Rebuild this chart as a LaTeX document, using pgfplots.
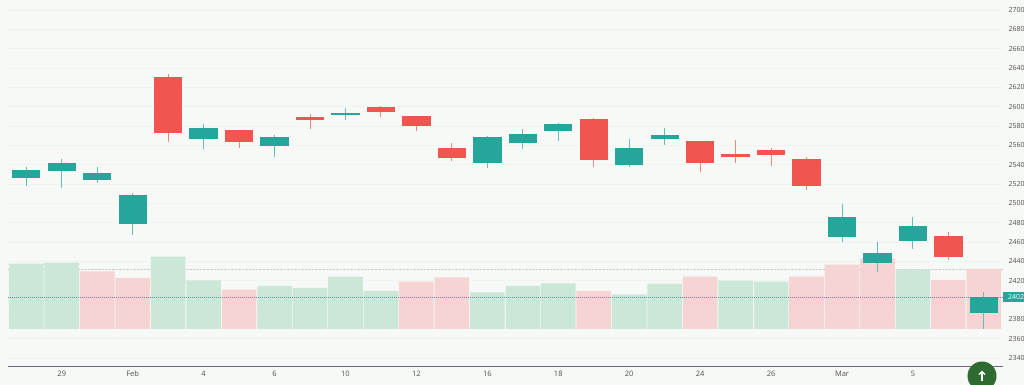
\documentclass[border=0pt]{standalone}
\usepackage{pgfplots}
\usepackage{pgfplotstable}
\usepackage{fontspec}
\setmainfont{Open Sans}
\pgfplotsset{compat=1.18}
\usetikzlibrary{arrows.meta}
\definecolor{bgc}{HTML}{F7F9F6}
\definecolor{gridc}{HTML}{F0F3F0}
\definecolor{teal1}{HTML}{26A69A}
\definecolor{red1}{HTML}{F25550}
\definecolor{volg}{HTML}{CBE7D7}
\definecolor{volr}{HTML}{F7D4D4}
\definecolor{axc}{HTML}{6A6A86}
\definecolor{txt}{HTML}{505050}
\definecolor{btn}{HTML}{2E6B30}
% candles: index, low, body bottom, body top, high
\pgfplotstableread{
i low bot top high
0 2517.9 2525.9 2534.2 2537.3
1 2515.9 2533.8 2541.7 2546.2
2 2520.7 2524.4 2531.7 2537.3
3 2467.2 2478.9 2508.6 2510.4
5 2556.2 2566.6 2577.6 2581.8
7 2548.2 2559.6 2568.9 2570.4
9 2586.5 2591.4 2593.4 2598.6
13 2536.6 2542.0 2568.3 2569.7
14 2556.5 2562.7 2572.0 2576.6
15 2564.2 2574.5 2582.1 2583.1
17 2537.3 2540.0 2557.2 2566.6
18 2560.3 2566.9 2570.7 2577.6
23 2459.7 2465.5 2486.2 2499.0
24 2429.3 2438.6 2448.3 2460.0
25 2452.4 2461.3 2476.6 2485.9
27 2370.0 2386.6 2403.1 2408.0
}\upcandles
\pgfplotstableread{
i low bot top high
4 2563.8 2572.4 2630.4 2633.8
6 2556.9 2563.4 2575.6 2575.9
8 2576.9 2585.9 2589.0 2592.4
10 2589.0 2594.5 2599.7 2600.7
11 2574.5 2580.3 2590.7 2590.7
12 2543.8 2546.6 2556.9 2562.7
16 2537.9 2544.8 2586.9 2588.3
19 2532.4 2542.0 2564.2 2564.2
20 2542.0 2547.6 2551.0 2565.5
21 2538.9 2549.7 2555.2 2557.2
22 2513.8 2517.6 2545.9 2547.6
26 2441.1 2444.8 2465.9 2470.3
}\downcandles
% volume, in the picture's own scale
\pgfplotstableread{
i v
0 65.3
1 66.3
4 72.3
5 48.7
7 43.0
8 41.0
9 52.3
10 38.0
13 36.7
14 43.0
15 45.7
17 34.7
18 45.3
20 48.3
21 47.3
25 59.3
}\greenvol
\pgfplotstableread{
i v
2 57.7
3 51.0
6 39.3
11 47.3
12 51.7
16 38.0
19 52.3
22 52.3
23 64.3
24 70.3
26 49.0
27 60.0
}\redvol
\pgfplotsset{base/.style={
  scale only axis, width=995pt, height=366.7pt, at={(0,0)}, anchor=south west,
  xmin=-0.516, xmax=27.54,
}}
\begin{document}
\begin{tikzpicture}
\clip (-8pt,-18.3pt) rectangle (1016pt,366.7pt);
\fill[bgc] (-8pt,-18.3pt) rectangle (1016pt,366.7pt);
% grid, axis line and tick labels
\begin{axis}[base,
  ymin=2331.0, ymax=2710.34,
  axis x line=bottom, axis y line=right,
  x axis line style={draw=axc, line width=0.8pt, -},
  y axis line style={draw=none},
  ytick={2340,2360,2380,2420,2440,2460,2480,2500,2520,2540,2560,2580,2600,2620,2640,2660,2680,2700},
  extra y ticks={2400}, extra y tick labels={},
  extra y tick style={ymajorgrids},
  xtick={1,3,5,7,9,11,13,15,17,19,21,23,25},
  xticklabels={29,Feb,4,6,10,12,16,18,20,24,26,Mar,5},
  ymajorgrids, major grid style={gridc, line width=0.7pt},
  major tick length=0pt,
  tick label style={font=\fontsize{7}{9}\selectfont, text=txt},
  yticklabel style={/pgf/number format/1000 sep={}, /pgf/number format/assume math mode=true, anchor=west, xshift=2pt},
  xticklabel style={yshift=-1pt, font=\fontsize{7.5}{9}\selectfont},
]
\addplot[black!20, line width=0.4pt, densely dotted] coordinates {(-0.516,2432) (27.54,2432)};
\end{axis}
% volume
\begin{axis}[base, hide axis, ymin=-37.7, ymax=329, ybar, bar width=34.6pt, /pgf/bar shift=0pt]
\addplot[fill=volg, draw=none] table[x=i,y=v] {\greenvol};
\addplot[fill=volr, draw=none] table[x=i,y=v] {\redvol};
\end{axis}
% candles
\begin{axis}[base, hide axis, ymin=2331.0, ymax=2710.34, clip=false, no markers]
\addplot[color=teal1, line width=0.8pt, dash pattern=on 1pt off 1pt] coordinates {(-0.516,2403.1) (27.54,2403.1)};
\addplot[draw=none, error bars/.cd, y dir=both, y explicit, error mark=none,
  error bar style={teal1!70!bgc, line width=1pt, solid}]
  table[x=i, y=bot, y error plus expr=\thisrow{high}-\thisrow{bot}, y error minus expr=\thisrow{bot}-\thisrow{low}] {\upcandles};
\addplot[draw=none, error bars/.cd, y dir=both, y explicit, error mark=none,
  error bar style={red1!70!bgc, line width=1pt, solid}]
  table[x=i, y=bot, y error plus expr=\thisrow{high}-\thisrow{bot}, y error minus expr=\thisrow{bot}-\thisrow{low}] {\downcandles};
\addplot[draw=none, error bars/.cd, y dir=plus, y explicit, error mark=none,
  error bar style={teal1, line width=28.3pt, solid}]
  table[x=i, y=bot, y error plus expr=\thisrow{top}-\thisrow{bot}] {\upcandles};
\addplot[draw=none, error bars/.cd, y dir=plus, y explicit, error mark=none,
  error bar style={red1, line width=28.3pt, solid}]
  table[x=i, y=bot, y error plus expr=\thisrow{top}-\thisrow{bot}] {\downcandles};
\end{axis}
% last price tag
\fill[teal1] (995pt,64.4pt) rectangle (1016pt,75pt);
\node[anchor=west, text=white, inner sep=0pt, font=\fontsize{7}{9}\selectfont] at (1000pt,69.7pt) {2402};
% scroll button
\fill[btn] (974pt,-9.3pt) circle (14.5pt);
\draw[white, line width=1.2pt, -{Straight Barb[length=3pt,width=6pt]}] (974pt,-14pt) -- (974pt,-4pt);
\end{tikzpicture}
\end{document}
